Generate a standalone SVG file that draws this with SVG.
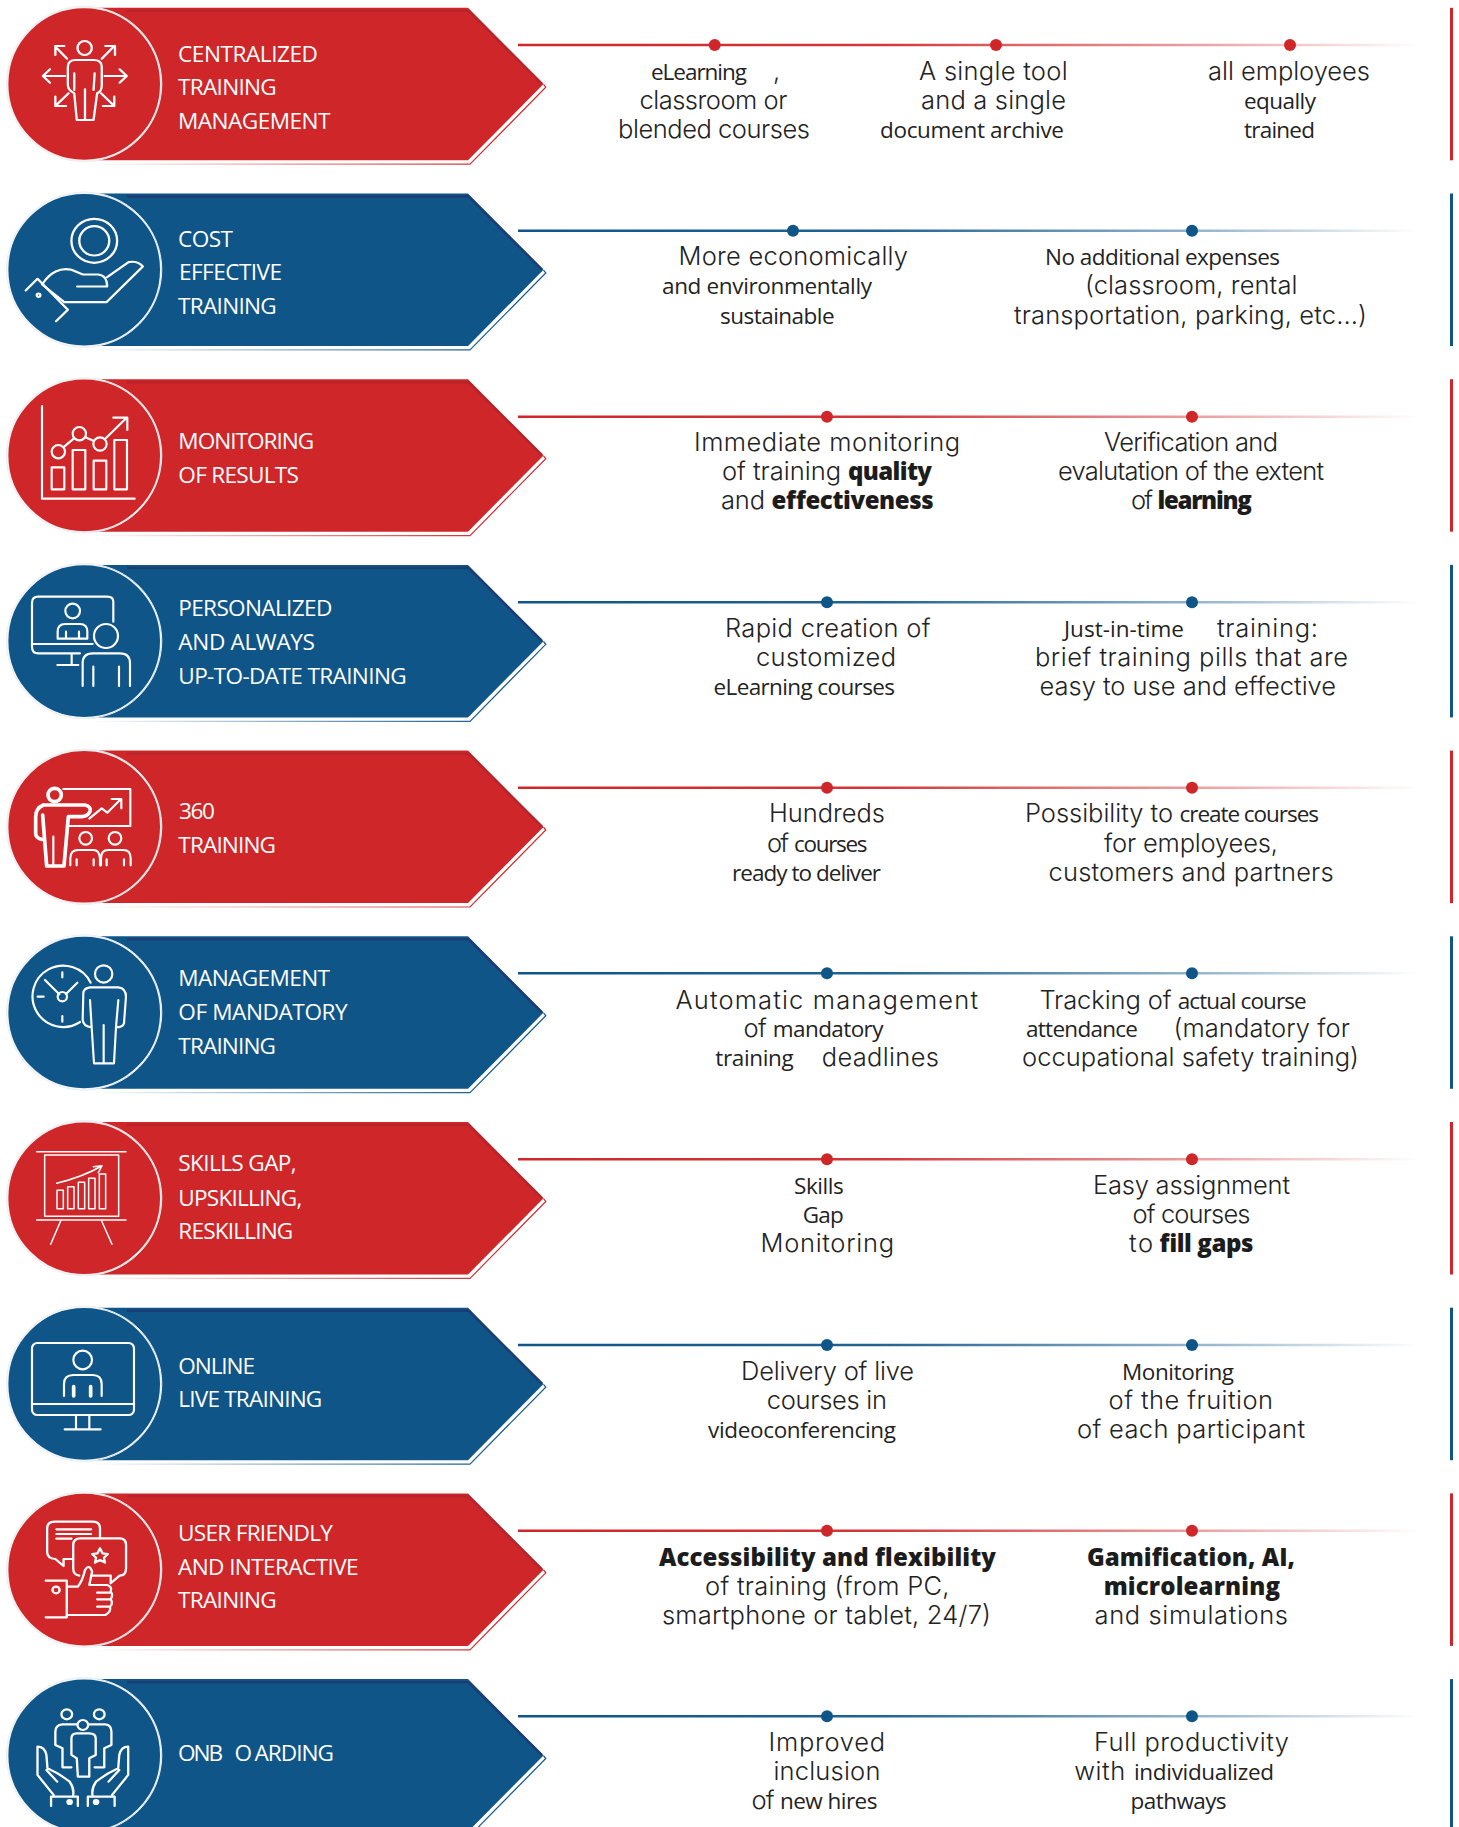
<svg xmlns="http://www.w3.org/2000/svg" width="1459" height="1827" viewBox="0 0 1459 1827">
<style>
text{font-family:"Inter","Liberation Sans",sans-serif;fill:#232323}
.L{font-family:"Inter","Liberation Sans",sans-serif;font-weight:300;font-size:25.5px}
.M{font-family:"Open Sans","Liberation Sans",sans-serif;font-weight:500;font-size:22.5px}
.B{font-family:"Open Sans","Liberation Sans",sans-serif;font-weight:800;font-size:24px;fill:#1c1c1c}
.lb{font-family:"Open Sans","Liberation Sans",sans-serif;font-size:22.6px;fill:#fff}
.i{fill:none;stroke:#fff;stroke-width:6.5;stroke-linecap:round;stroke-linejoin:round}
.t{stroke-width:4.5}
.h{stroke-width:11}
.conn{fill:none;stroke-width:2.4}
.dr{fill:#cf2629}.db{fill:#0f5588}
</style>
<defs>
<linearGradient id="lr" gradientUnits="userSpaceOnUse" x1="518" y1="0" x2="1420" y2="0"><stop offset="0" stop-color="#cf2629"/><stop offset=".4" stop-color="#cf2629" stop-opacity=".92"/><stop offset=".78" stop-color="#cf2629" stop-opacity=".4"/><stop offset="1" stop-color="#cf2629" stop-opacity="0"/></linearGradient>
<linearGradient id="lb" gradientUnits="userSpaceOnUse" x1="518" y1="0" x2="1420" y2="0"><stop offset="0" stop-color="#0f5588"/><stop offset=".4" stop-color="#0f5588" stop-opacity=".92"/><stop offset=".78" stop-color="#0f5588" stop-opacity=".4"/><stop offset="1" stop-color="#0f5588" stop-opacity="0"/></linearGradient>
<linearGradient id="sr" gradientUnits="userSpaceOnUse" x1="90" y1="0" x2="500" y2="0"><stop offset="0" stop-color="#cf2629" stop-opacity="0"/><stop offset="1" stop-color="#cf2629"/></linearGradient>
<linearGradient id="sb" gradientUnits="userSpaceOnUse" x1="90" y1="0" x2="500" y2="0"><stop offset="0" stop-color="#0f5588" stop-opacity="0"/><stop offset="1" stop-color="#0f5588"/></linearGradient>
<g id="bannerR">
<path d="M85 0H468L543.5 76.3 468 152.5H85Z" fill="#cf2629"/>
<path d="M127 3H468.5L542 76" fill="none" stroke="#b7242b" stroke-width="2.4"/>
<path d="M92 156.4H470L545.8 79.4 543.5 76.6" fill="none" stroke="url(#sr)" stroke-width="1.2"/>
<circle cx="84.2" cy="76.2" r="77.6" fill="none" stroke="#e4ecf2" stroke-width="1"/>
<circle cx="84.2" cy="76.2" r="76.6" fill="#cf2629" stroke="#f4f0f0" stroke-width="1.6"/>
<rect x="1450" y="0" width="3" height="152.5" fill="#cf2629"/>
</g>
<g id="bannerB">
<path d="M85 0H468L543.5 76.3 468 152.5H85Z" fill="#0f5588"/>
<path d="M127 3H468.5L542 76" fill="none" stroke="#1d3c74" stroke-width="2.4"/>
<path d="M92 156.4H470L545.8 79.4 543.5 76.6" fill="none" stroke="url(#sb)" stroke-width="1.2"/>
<circle cx="84.2" cy="76.2" r="77.6" fill="none" stroke="#e4ecf2" stroke-width="1"/>
<circle cx="84.2" cy="76.2" r="76.6" fill="#0f5588" stroke="#f2f5f8" stroke-width="1.6"/>
<rect x="1450" y="0" width="3" height="152.5" fill="#0f5588"/>
</g>
</defs>

<g id="connectors">
<path class="conn" stroke="url(#lr)" d="M518 45H1420"/><circle class="dr" cx="714.7" cy="45" r="6"/><circle class="dr" cx="996" cy="45" r="6"/><circle class="dr" cx="1290" cy="45" r="6"/>
<path class="conn" stroke="url(#lb)" d="M518 230.7H1420"/><circle class="db" cx="793" cy="230.7" r="6"/><circle class="db" cx="1192" cy="230.7" r="6"/>
<path class="conn" stroke="url(#lr)" d="M518 416.7H1420"/><circle class="dr" cx="827" cy="416.7" r="6"/><circle class="dr" cx="1192" cy="416.7" r="6"/>
<path class="conn" stroke="url(#lb)" d="M518 602.3H1420"/><circle class="db" cx="827" cy="602.3" r="6"/><circle class="db" cx="1192" cy="602.3" r="6"/>
<path class="conn" stroke="url(#lr)" d="M518 787.7H1420"/><circle class="dr" cx="827" cy="787.7" r="6"/><circle class="dr" cx="1192" cy="787.7" r="6"/>
<path class="conn" stroke="url(#lb)" d="M518 973.3H1420"/><circle class="db" cx="827" cy="973.3" r="6"/><circle class="db" cx="1192" cy="973.3" r="6"/>
<path class="conn" stroke="url(#lr)" d="M518 1159.3H1420"/><circle class="dr" cx="827" cy="1159.3" r="6"/><circle class="dr" cx="1192" cy="1159.3" r="6"/>
<path class="conn" stroke="url(#lb)" d="M518 1345H1420"/><circle class="db" cx="827" cy="1345" r="6"/><circle class="db" cx="1192" cy="1345" r="6"/>
<path class="conn" stroke="url(#lr)" d="M518 1530.7H1420"/><circle class="dr" cx="827" cy="1530.7" r="6"/><circle class="dr" cx="1192" cy="1530.7" r="6"/>
<path class="conn" stroke="url(#lb)" d="M518 1716.3H1420"/><circle class="db" cx="827" cy="1716.3" r="6"/><circle class="db" cx="1192" cy="1716.3" r="6"/>
</g>

<g id="node-1">
<use href="#bannerR" y="7.8"/>
<g class="i" transform="scale(.3571 .3333)">
<ellipse cx="237" cy="144" rx="20" ry="21"/>
<path d="M190 200Q190 180 212 180H262Q285 180 285 200V255Q285 275 272 280L262 360H215L208 280Q190 270 190 255Z"/>
<path d="M208 220V270M265 220L262 270M238 268V360"/>
<path d="M182 228H120M120 228L140 208M120 228L140 248M293 228H355M355 228L335 208M355 228L335 248"/>
<path d="M188 176L155 140M155 165V138H180M285 176L320 138M295 138H322V165M192 280L155 318M155 290V318H185M283 280L320 318M320 290V318H288"/>
</g>
<text class="lb"><tspan x="178" y="61.7" textLength="140">CENTRALIZED</tspan>
<tspan x="178" y="95.3" textLength="98.8">TRAINING</tspan>
<tspan x="178" y="128.7" textLength="152.4">MANAGEMENT</tspan></text>
<text class="L"><tspan class="M" x="651" y="80" textLength="96">eLearning</tspan> <tspan x="773" y="80">,</tspan>
<tspan x="639.4" y="109" textLength="148">classroom or</tspan>
<tspan x="618" y="138" textLength="192">blended courses</tspan></text>
<text class="L"><tspan x="919" y="80" textLength="148.6">A single tool</tspan>
<tspan x="921" y="109" textLength="145">and a single</tspan>
<tspan class="M" x="880" y="138" textLength="184">document archive</tspan></text>
<text class="L"><tspan x="1208" y="80" textLength="162">all employees</tspan>
<tspan class="M" x="1244" y="109" textLength="72">equally</tspan>
<tspan class="M" x="1244" y="138" textLength="71">trained</tspan></text>
</g>

<g id="node-2">
<use href="#bannerB" y="193.5"/>
<g class="i" transform="translate(0 .5) scale(.3571 .3333)">
<ellipse cx="264" cy="721" rx="64" ry="66"/><ellipse cx="264" cy="721" rx="42" ry="44"/>
<path d="M118 852C140 815 170 800 200 808L232 822H275Q300 825 300 858H216M300 830L360 785Q385 780 400 798L298 905H180L118 852"/>
<path d="M72 870L105 835L190 928L157 962"/><circle cx="108" cy="884" r="5"/>
</g>
<text class="lb"><tspan x="178" y="246.7" textLength="55">COST</tspan>
<tspan x="179" y="280" textLength="103">EFFECTIVE</tspan>
<tspan x="178" y="314" textLength="98.8">TRAINING</tspan></text>
<text class="L"><tspan x="678.6" y="265" textLength="229.4">More economically</tspan>
<tspan class="M" x="662" y="294" textLength="210">and environmentally</tspan>
<tspan class="M" x="720" y="324" textLength="114.6">sustainable</tspan></text>
<text class="L"><tspan class="M" x="1045" y="265" textLength="235">No additional expenses</tspan>
<tspan x="1085" y="294" textLength="212.5">(classroom, rental</tspan>
<tspan x="1014" y="323.5" textLength="353">transportation, parking, etc...)</tspan></text>
</g>

<g id="node-3">
<use href="#bannerR" y="379.2"/>
<g class="i" transform="translate(0 370) scale(.3333)">
<path d="M126 108V386H404"/>
<rect x="155" y="292" width="38" height="66"/><rect x="218" y="240" width="38" height="118"/><rect x="281" y="272" width="38" height="86"/><rect x="343" y="210" width="38" height="148"/>
<circle cx="175" cy="245" r="20"/><circle cx="238" cy="191" r="20"/><circle cx="300" cy="222" r="20"/>
<path d="M190 232L222 205M256 202L282 213M315 207L380 143M340 143H382V180"/>
</g>
<text class="lb"><tspan x="178.3" y="449.3" textLength="136">MONITORING</tspan>
<tspan x="178.3" y="483.3" textLength="120.7">OF RESULTS</tspan></text>
<text class="L"><tspan x="694" y="451" textLength="266">Immediate monitoring</tspan>
<tspan x="722" y="480" textLength="119">of training</tspan> <tspan class="B" x="848" y="480" textLength="84">quality</tspan>
<tspan x="721" y="509" textLength="44">and</tspan> <tspan class="B" x="771.6" y="509" textLength="162">effectiveness</tspan></text>
<text class="L"><tspan x="1104" y="451" textLength="174">Verification and</tspan>
<tspan x="1058" y="480" textLength="266">evalutation of the extent</tspan>
<tspan x="1131" y="509" textLength="22">of</tspan> <tspan class="B" x="1157.5" y="509" textLength="94.2">learning</tspan></text>
</g>

<g id="node-4">
<use href="#bannerB" y="564.9"/>
<g class="i" transform="translate(0 370) scale(.3333)">
<path d="M340 755V695Q340 680 322 680H115Q96 680 96 698V830Q96 850 115 850H240M100 822H278M215 850V885M172 885H235"/>
<circle cx="218" cy="723" r="22"/>
<path d="M173 806V785Q173 762 195 762H240Q262 762 262 785V806H173M198 785V806M237 785V806"/>
<circle cx="318" cy="798" r="36"/>
<path d="M248 948V880Q248 850 278 850H360Q390 850 390 880V948M280 890V948M357 890V948"/>
</g>
<text class="lb"><tspan x="178.3" y="615.7" textLength="154">PERSONALIZED</tspan>
<tspan x="178.3" y="650" textLength="136.7">AND ALWAYS</tspan>
<tspan x="178.3" y="684" textLength="228.4">UP-TO-DATE TRAINING</tspan></text>
<text class="L"><tspan x="725" y="636.7" textLength="205.6">Rapid creation of</tspan>
<tspan x="756" y="665.7" textLength="140">customized</tspan>
<tspan class="M" x="713.5" y="694.7" textLength="181.5">eLearning courses</tspan></text>
<text class="L"><tspan class="M" x="1064" y="636.7" textLength="120">Just-in-time</tspan> <tspan x="1217" y="636.7" textLength="101">training:</tspan>
<tspan x="1035" y="665.7" textLength="313">brief training pills that are</tspan>
<tspan x="1039.5" y="694.7" textLength="296.5">easy to use and effective</tspan></text>
</g>

<g id="node-5">
<use href="#bannerR" y="750.6"/>
<g class="i" transform="translate(0 740) scale(.3333)">
<circle class="h" cx="164" cy="165" r="20"/>
<path d="M190 147H391V258H208M268 236L305 205L322 218L362 178M335 177H364V205"/>
<path class="h" d="M130 195Q107 205 107 230V280Q107 295 125 298M130 195H255Q275 200 270 215Q262 230 245 230H205L192 378H140L128 225"/>
<path d="M160 290V378"/>
<circle cx="257" cy="295" r="19"/><circle cx="345" cy="295" r="19"/>
<path d="M211 376V355Q211 330 235 330H280Q298 330 300 355V376M230 358V376M281 358V376M303 376V355Q303 330 325 330H370Q392 330 392 355V376M320 358V376M372 358V376"/>
</g>
<text class="lb"><tspan x="178.9" y="819.3" textLength="36">360</tspan>
<tspan x="178.3" y="853" textLength="97.7">TRAINING</tspan></text>
<text class="L"><tspan x="769" y="821.7" textLength="116">Hundreds</tspan>
<tspan x="767" y="852" textLength="22">of</tspan> <tspan class="M" x="794" y="852" textLength="73.6">courses</tspan>
<tspan class="M" x="732" y="881" textLength="149">ready to deliver</tspan></text>
<text class="L"><tspan x="1025" y="821.7" textLength="148">Possibility to</tspan> <tspan class="M" x="1179.5" y="821.7" textLength="139.5">create courses</tspan>
<tspan x="1104" y="852" textLength="174">for employees,</tspan>
<tspan x="1048.6" y="881" textLength="285">customers and partners</tspan></text>
</g>

<g id="node-6">
<use href="#bannerB" y="936.3"/>
<g class="i" transform="translate(0 740) scale(.3333)">
<path d="M272 728A92 92 0 1 0 240 846M187 697V712M187 828V845M113 770H131M135 720L178 763M232 728L198 762"/>
<circle cx="187" cy="770" r="14"/><circle cx="311" cy="702" r="26"/>
<path d="M250 760Q250 745 270 742H355Q378 745 378 770L372 850Q368 862 348 862L342 970H282L275 862Q250 860 248 840ZM270 780L275 862M355 780L348 862M311 855V970"/>
</g>
<text class="lb"><tspan x="178.3" y="985.7" textLength="151.7">MANAGEMENT</tspan>
<tspan x="178.3" y="1019.7" textLength="169.4">OF MANDATORY</tspan>
<tspan x="178.3" y="1054" textLength="97.7">TRAINING</tspan></text>
<text class="L"><tspan x="675.5" y="1008.5" textLength="302.5">Automatic management</tspan>
<tspan x="743.4" y="1036.7" textLength="23.3">of</tspan> <tspan class="M" x="772.8" y="1036.7" textLength="110.7">mandatory</tspan>
<tspan class="M" x="715.3" y="1065.7" textLength="78.3">training</tspan> <tspan x="821.7" y="1065.7" textLength="117.3">deadlines</tspan></text>
<text class="L"><tspan x="1039.4" y="1008.5" textLength="132.2">Tracking of</tspan> <tspan class="M" x="1177.7" y="1008.5" textLength="129">actual course</tspan>
<tspan class="M" x="1026" y="1036.7" textLength="112">attendance</tspan> <tspan x="1173.4" y="1036.7" textLength="176.6">(mandatory for</tspan>
<tspan x="1022" y="1065.7" textLength="337">occupational safety training)</tspan></text>
</g>

<g id="node-7">
<use href="#bannerR" y="1122"/>
<g class="i t" transform="translate(0 1110) scale(.3333)">
<path d="M110 125H378M110 330H378M182 333L152 403M305 333L336 403"/>
<rect x="134" y="135" width="222" height="184"/>
<rect x="171" y="241" width="19" height="55"/><rect x="203" y="230" width="19" height="66"/><rect x="235" y="217" width="19" height="79"/><rect x="266" y="205" width="19" height="91"/><rect x="298" y="192" width="19" height="104"/>
<path d="M170 220Q250 200 305 168M280 170L306 167L295 188"/>
</g>
<text class="lb"><tspan x="178.3" y="1171.3" textLength="118.4">SKILLS GAP,</tspan>
<tspan x="178.3" y="1205.7" textLength="124">UPSKILLING,</tspan>
<tspan x="178.3" y="1239" textLength="115">RESKILLING</tspan></text>
<text class="L"><tspan class="M" x="794" y="1194.3" textLength="49.7">Skills</tspan>
<tspan class="M" x="802.8" y="1223.3" textLength="40.9">Gap</tspan>
<tspan x="760.5" y="1252.3" textLength="133.5">Monitoring</tspan></text>
<text class="L"><tspan x="1093" y="1194.3" textLength="197">Easy assignment</tspan>
<tspan x="1132.4" y="1223.3" textLength="118.1">of courses</tspan>
<tspan x="1129" y="1252.3" textLength="24">to</tspan> <tspan class="B" x="1159" y="1252.3" textLength="94">fill gaps</tspan></text>
</g>

<g id="node-8">
<use href="#bannerB" y="1307.7"/>
<g class="i" transform="translate(0 1110) scale(.3333)">
<rect x="96" y="699" width="306" height="216" rx="16"/>
<path d="M96 882H402M228 918V958M268 918V958M194 958H302"/>
<circle cx="248" cy="750" r="28"/>
<path d="M192 858V822Q192 795 220 795H278Q305 795 305 822V858"/>
<path class="h" d="M221 830V858M272 830V858"/>
</g>
<text class="lb"><tspan x="178.3" y="1374" textLength="76.7">ONLINE</tspan>
<tspan x="178.3" y="1407.3" textLength="144">LIVE TRAINING</tspan></text>
<text class="L"><tspan x="741" y="1380.3" textLength="173">Delivery of live</tspan>
<tspan x="766.7" y="1409.3" textLength="120.3">courses in</tspan>
<tspan class="M" x="708" y="1438.3" textLength="188">videoconferencing</tspan></text>
<text class="L"><tspan class="M" x="1122" y="1380.3" textLength="112">Monitoring</tspan>
<tspan x="1108.6" y="1409.3" textLength="164.4">of the fruition</tspan>
<tspan x="1077" y="1438.3" textLength="228">of each participant</tspan></text>
</g>

<g id="node-9">
<use href="#bannerR" y="1493.4"/>
<g class="i" transform="translate(0 1480) scale(.3571 .3333)">
<path d="M280 175V145Q280 125 258 125H155Q132 125 132 145V215Q132 235 155 237L178 258V237H205M158 148H255M158 162H255M158 176H200"/>
<path d="M222 287Q205 285 205 265V195Q205 175 225 175H335Q353 175 353 195V265Q353 287 335 287L310 310V287H255"/>
<path d="M280 205L287 220L302 222L291 233L294 248L280 240L266 248L269 233L258 222L273 220Z"/>
<path d="M188 320H218Q232 300 238 270Q250 250 258 275L250 315H300Q315 320 310 335Q318 345 310 358Q318 370 308 380Q312 395 295 405H188M272 338H310M272 358H310M272 380H305M128 302H187V412H128"/>
<circle cx="157" cy="330" r="10"/>
</g>
<text class="lb"><tspan x="178" y="1541" textLength="155">USER FRIENDLY</tspan>
<tspan x="178" y="1575" textLength="180.6">AND INTERACTIVE</tspan>
<tspan x="178" y="1608" textLength="98.8">TRAINING</tspan></text>
<text class="L"><tspan class="B" x="659" y="1566" textLength="337">Accessibility and flexibility</tspan>
<tspan x="705" y="1595" textLength="244.5">of training (from PC,</tspan>
<tspan x="662" y="1624" textLength="329">smartphone or tablet, 24/7)</tspan></text>
<text class="L"><tspan class="B" x="1087" y="1566" textLength="208">Gamification, AI,</tspan>
<tspan class="B" x="1103.7" y="1595" textLength="176.3">microlearning</tspan>
<tspan x="1094.5" y="1624" textLength="193.5">and simulations</tspan></text>
</g>

<g id="node-10">
<use href="#bannerB" y="1679.1"/>
<g class="i" transform="translate(0 1480) scale(.3571 .3333)">
<circle cx="187" cy="703" r="15"/><circle cx="278" cy="703" r="15"/><circle cx="232" cy="735" r="15"/>
<path d="M215 733H175Q155 735 155 755V795L175 805V862H200M250 733H295Q312 735 312 755V795L292 805V862H265"/>
<path d="M200 775Q200 760 215 760H250Q268 760 268 775V825L250 835V890H218L215 835L200 825Z"/>
<g id="hand"><path d="M105 800Q125 800 130 825L133 865Q165 880 195 905Q208 925 205 945M105 800V885L150 945M130 870L160 905M143 978V950H218V978"/><circle cx="195" cy="966" r="6" fill="#fff"/></g>
<use href="#hand" transform="matrix(-1 0 0 1 464 0)"/>
</g>
<text class="lb"><tspan x="178" y="1760.7" textLength="45.2">ONB</tspan> <tspan x="234.6" y="1760.7">O</tspan><tspan x="254.5" y="1760.7" textLength="79.5">ARDING</tspan></text>
<text class="L"><tspan x="768.5" y="1750.7" textLength="116.5">Improved</tspan>
<tspan x="773.4" y="1779.7" textLength="107">inclusion</tspan>
<tspan x="751.4" y="1808.7" textLength="23.2">of</tspan> <tspan class="M" x="780" y="1808.7" textLength="97.4">new hires</tspan></text>
<text class="L"><tspan x="1094" y="1750.7" textLength="195">Full productivity</tspan>
<tspan x="1074.3" y="1779.7" textLength="51">with</tspan> <tspan class="M" x="1134" y="1779.7" textLength="140">individualized</tspan>
<tspan class="M" x="1130.6" y="1808.7" textLength="96">pathways</tspan></text>
</g>
</svg>
